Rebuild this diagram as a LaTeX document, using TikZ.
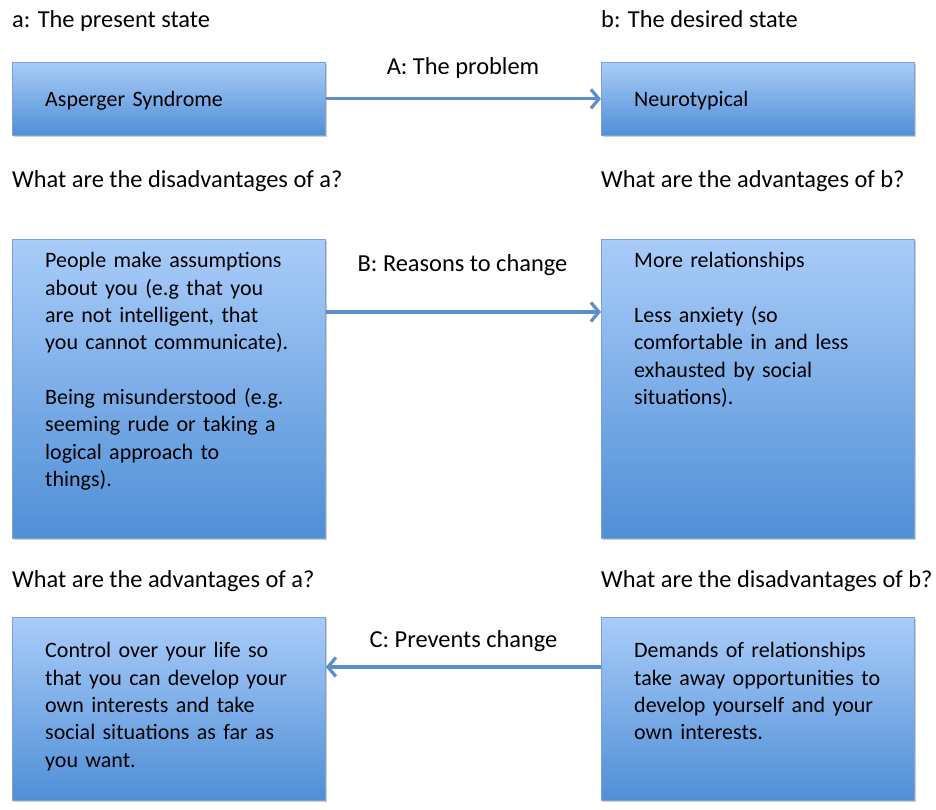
\documentclass[tikz,border=0pt]{standalone}
\usepackage{fontspec}
\setmainfont{Carlito}
\usetikzlibrary{arrows.meta,shadows}
\definecolor{boxtop}{HTML}{A9CCF9}
\definecolor{boxbot}{HTML}{4F8FD6}
\definecolor{boxedge}{HTML}{7AA2D6}
\definecolor{arrblue}{HTML}{5B8FCB}
\tikzset{
  statebox/.style={draw=boxedge, line width=0.8pt, top color=boxtop, bottom color=boxbot,
    minimum width=313pt, anchor=north west, inner sep=0pt,
    drop shadow={shadow xshift=1.5pt, shadow yshift=-2pt, opacity=0.35, fill=black!55}},
  boxtext/.style={anchor=base west, inner sep=0pt, text width=290pt, align=left},
  headtext/.style={anchor=base west, inner sep=0pt, font=\fontsize{24.4}{30}\selectfont},
  arrtext/.style={anchor=base, inner sep=0pt, font=\fontsize{24.4}{30}\selectfont},
  flow/.style={draw=arrblue, line width=3.2pt, -{Straight Barb[length=8pt,width=19pt]}}
}
\begin{document}
\begin{tikzpicture}[x=1pt, y=1pt, font=\fontsize{22}{27.3}\selectfont]
  \useasboundingbox (0,0) rectangle (936,810);
  % headings
  \node[headtext] (ha) at (12,782) {a: The present state};
  \node[headtext] (hb) at (601,782) {b: The desired state};
  \node[headtext] (qa1) at (12,622) {What are the disadvantages of a?};
  \node[headtext] (qb1) at (601,622) {What are the advantages of b?};
  \node[headtext] (qa2) at (12,222) {What are the advantages of a?};
  \node[headtext] (qb2) at (601,222) {What are the disadvantages of b?};
  % boxes
  \node[statebox, minimum height=73pt] (a1) at (12,748) {};
  \node[statebox, minimum height=73pt] (b1) at (601,748) {};
  \node[statebox, minimum height=299pt] (a2) at (12,571) {};
  \node[statebox, minimum height=299pt] (b2) at (601,571) {};
  \node[statebox, minimum height=183pt] (a3) at (12,193) {};
  \node[statebox, minimum height=183pt] (b3) at (601,193) {};
  % box texts
  \node[boxtext] (ta1) at (45,703) {Asperger Syndrome};
  \node[boxtext] (tb1) at (634,703) {Neurotypical};
  \node[boxtext] (ta2) at (45,542) {People make assumptions\\ about you (e.g that you\\ are not intelligent, that\\ you cannot communicate).\\[27.3pt] Being misunderstood (e.g.\\ seeming rude or taking a\\ logical approach to\\ things).};
  \node[boxtext] (tb2) at (634,542) {More relationships\\[27.3pt] Less anxiety (so\\ comfortable in and less\\ exhausted by social\\ situations).};
  \node[boxtext] (ta3) at (45,152) {Control over your life so\\ that you can develop your\\ own interests and take\\ social situations as far as\\ you want.};
  \node[boxtext] (tb3) at (634,152) {Demands of relationships\\ take away opportunities to\\ develop yourself and your\\ own interests.};
  % arrows
  \coordinate (yB) at (0,498);
  \coordinate (yC) at (0,143);
  \draw[flow] (a1.east) -- (b1.west);
  \draw[flow] (a2.east |- yB) -- (b2.west |- yB);
  \draw[flow] (b3.west |- yC) -- (a3.east |- yC);
  \node[arrtext] (lA) at (463,735) {A: The problem};
  \node[arrtext] (lB) at (462.5,538) {B: Reasons to change};
  \node[arrtext] (lC) at (463.5,162) {C: Prevents change};
\end{tikzpicture}
\end{document}
